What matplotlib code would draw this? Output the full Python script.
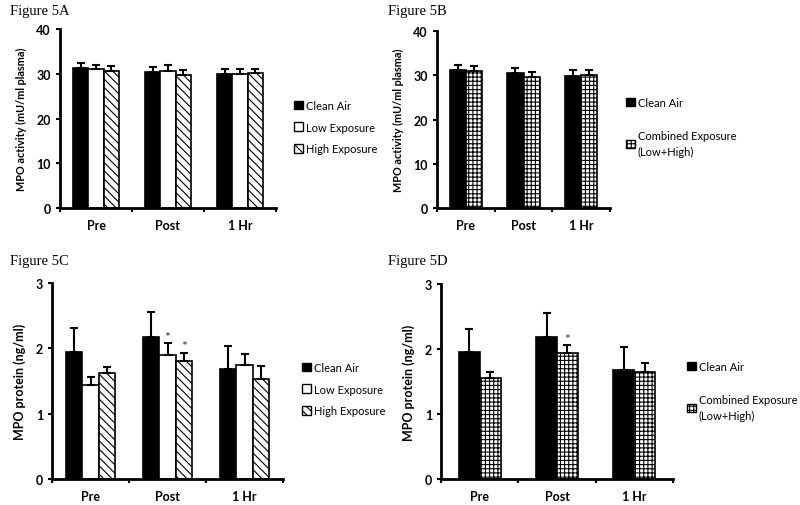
import matplotlib.pyplot as plt
import numpy as np
from matplotlib.patches import Patch

plt.rcParams['font.family'] = ['Lato', 'DejaVu Sans']
plt.rcParams['hatch.linewidth'] = 0.8

times = ['Pre', 'Post', '1 Hr']

# MPO activity (mU/ml plasma)
act_clean = [31.2, 30.5, 29.9]
act_low = [31.1, 30.7, 30.0]
act_high = [30.7, 29.7, 30.1]
act_comb = [31.0, 29.7, 30.1]
act_clean_err = [1.1, 1.1, 1.2]
act_low_err = [0.9, 1.2, 1.1]
act_high_err = [1.0, 1.1, 1.0]
act_comb_err = [1.0, 1.0, 1.0]

# MPO protein (ng/ml)
prot_clean = [1.95, 2.18, 1.68]
prot_low = [1.44, 1.90, 1.74]
prot_high = [1.62, 1.81, 1.53]
prot_comb = [1.55, 1.94, 1.64]
prot_clean_err = [0.36, 0.38, 0.35]
prot_low_err = [0.12, 0.18, 0.17]
prot_high_err = [0.10, 0.12, 0.20]
prot_comb_err = [0.09, 0.12, 0.15]

W, H = 800, 506
fig = plt.figure(figsize=(8, 5.06), dpi=100)


def px_axes(left, right, top, bottom):
    return fig.add_axes([left / W, 1 - bottom / H, (right - left) / W, (bottom - top) / H])


styles = {
    'Clean Air': dict(color='black', edgecolor='black'),
    'Low Exposure': dict(color='white', edgecolor='black'),
    'High Exposure': dict(color='white', edgecolor='black', hatch='\\\\\\\\'),
    'Combined Exposure\n(Low+High)': dict(color='white', edgecolor='black', hatch='++++'),
}


def panel(ax, series, ymax, ystep, ylabel, ylabel_size, width, stars=()):
    x = np.arange(len(times))
    n = len(series)
    for i, (name, vals, errs) in enumerate(series):
        pos = x + (i - (n - 1) / 2) * width
        ax.bar(pos, vals, width, linewidth=1.2, **styles[name])
        ax.errorbar(pos, vals, yerr=[np.zeros(len(errs)), errs], fmt='none',
                    ecolor='black', elinewidth=1.5, capsize=3, capthick=1.5)
        for (si, ci) in stars:
            if si == i:
                ax.text(pos[ci], vals[ci] + errs[ci] + ymax * 0.003, '*', ha='center',
                        va='bottom', fontsize=10, color='#333333')
    ax.set_xlim(-0.5, len(times) - 0.5)
    ax.set_ylim(0, ymax)
    ax.set_yticks(np.arange(0, ymax + 0.01, ystep))
    ax.set_xticks(x)
    ax.set_xticklabels(times, fontweight='bold', fontsize=9)
    ax.set_xticks(np.arange(-0.5, len(times)), minor=True)
    ax.tick_params(axis='x', which='major', length=0, pad=8)
    ax.tick_params(axis='x', which='minor', length=3, width=1.5)
    ax.tick_params(axis='y', length=3, width=1.5, labelsize=9)
    for lab in ax.get_yticklabels():
        lab.set_fontweight('bold')
    for s in ['top', 'right']:
        ax.spines[s].set_visible(False)
    for s in ['left', 'bottom']:
        ax.spines[s].set_linewidth(2)
    ax.set_ylabel(ylabel, fontweight='bold', fontsize=ylabel_size, labelpad=7)
    handles = [Patch(facecolor=styles[name]['color'], edgecolor='black',
                     hatch=styles[name].get('hatch'), label=name) for name, _, _ in series]
    return handles


def add_legend(handles, x, y, spacing):
    leg = fig.legend(handles=handles, loc='upper left', bbox_to_anchor=(x / W, 1 - y / H),
                     frameon=False, fontsize=8, handlelength=0.8, handleheight=0.8,
                     handletextpad=0.25, labelspacing=spacing, borderaxespad=0, borderpad=0)
    for t in leg.get_texts():
        t.set_linespacing(1.5)


three_act = [('Clean Air', act_clean, act_clean_err),
             ('Low Exposure', act_low, act_low_err),
             ('High Exposure', act_high, act_high_err)]
two_act = [('Clean Air', act_clean, act_clean_err),
           ('Combined Exposure\n(Low+High)', act_comb, act_comb_err)]
three_prot = [('Clean Air', prot_clean, prot_clean_err),
              ('Low Exposure', prot_low, prot_low_err),
              ('High Exposure', prot_high, prot_high_err)]
two_prot = [('Clean Air', prot_clean, prot_clean_err),
            ('Combined Exposure\n(Low+High)', prot_comb, prot_comb_err)]

axA = px_axes(60, 276, 30, 209)
h = panel(axA, three_act, 40, 10, 'MPO activity (mU/ml plasma)', 7.8, 0.215)
add_legend(h, 294, 101, 0.95)

axB = px_axes(437, 610, 32, 209)
h = panel(axB, two_act, 40, 10, 'MPO activity (mU/ml plasma)', 7.8, 0.28)
add_legend(h, 626, 98, 2.0)

axC = px_axes(52, 283, 284, 480)
h = panel(axC, three_prot, 3, 1, 'MPO protein (ng/ml)', 9, 0.21, stars=[(1, 1), (2, 1)])
add_legend(h, 302, 363, 0.95)

axD = px_axes(441, 673, 285, 480)
h = panel(axD, two_prot, 3, 1, 'MPO protein (ng/ml)', 9, 0.27, stars=[(1, 1)])
add_legend(h, 687, 362, 2.0)

for label, x, y in [('Figure 5A', 10, 12), ('Figure 5B', 388, 12),
                    ('Figure 5C', 10, 262), ('Figure 5D', 388, 262)]:
    fig.text(x / W, 1 - y / H, label, family='Liberation Serif', fontsize=10.5,
             ha='left', va='center')

fig.savefig('out.png', dpi=100)
